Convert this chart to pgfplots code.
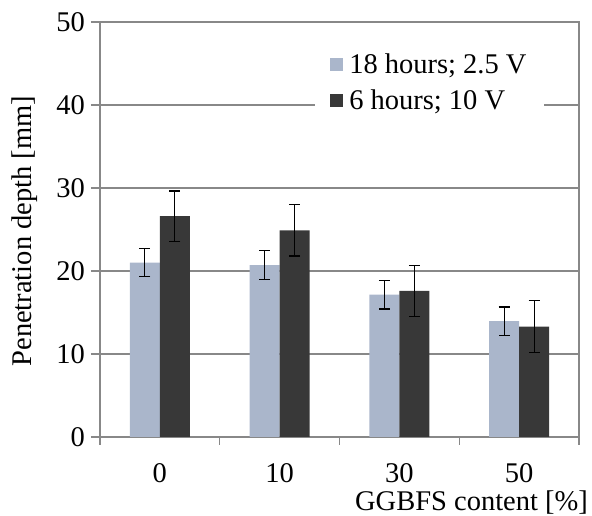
\documentclass[border=0pt]{standalone}
\usepackage{fontspec}
\setmainfont{Liberation Serif}
\usepackage{pgfplots}
\pgfplotsset{compat=1.18}
\definecolor{lightbar}{HTML}{AAB6CB}
\definecolor{darkbar}{HTML}{383838}
\definecolor{axgray}{HTML}{888888}
\begin{document}
\begin{tikzpicture}[font=\fontsize{28.5}{33}\selectfont]
\path[use as bounding box] (-100pt,-79pt) rectangle (492pt,437pt);
\begin{axis}[
  scale only axis,
  width=479pt, height=415pt,
  xmin=-0.5, xmax=3.5,
  ymin=0, ymax=50,
  ytick={0,10,20,30,40,50},
  xtick={0,1,2,3},
  xticklabels={0,10,30,50},
  minor xtick={-0.5,0.5,1.5,2.5,3.5},
  major x tick style={draw=none},
  minor tick length=8pt,
  major tick length=9pt,
  tick align=outside,
  xtick pos=bottom, ytick pos=left,
  axis line style={axgray, line width=1.3pt},
  tick style={axgray, line width=1.2pt},
  ymajorgrids,
  grid style={axgray, line width=1.1pt},
  /pgf/number format/assume math mode=true,
  yticklabel style={anchor=east, inner sep=0pt, xshift=-6pt},
  xticklabel style={anchor=center, inner sep=0pt, yshift=-27pt},
  ylabel={Penetration depth [mm]},
  ylabel style={at={(axis description cs:-0.158,0.496)}, anchor=center, inner sep=0pt, rotate=0},
  xlabel={GGBFS content [\%]},
  xlabel style={at={(axis description cs:1.019,-0.157)}, anchor=east, inner sep=0pt},
  ybar=0pt, bar width=30pt,
  legend style={at={(axis description cs:0.449,0.9325)}, anchor=north west, draw=none, fill=white, row sep=10pt, column sep=4pt, inner xsep=15pt, inner ysep=2pt},
  legend cell align=left,
  legend image code/.code={\fill[#1] (0pt,-6.5pt) rectangle (13pt,6.5pt);},
  error bars/error bar style={black, line width=1.2pt},
  error bars/error mark options={black, line width=1.2pt, rotate=90, mark size=5.5pt},
]
\addplot[fill=lightbar, draw=none, error bars/.cd, y dir=both, y explicit]
  coordinates {(0,21.0) +- (0,1.7) (1,20.7) +- (0,1.75) (2,17.15) +- (0,1.72) (3,13.95) +- (0,1.72)};
\addplot[fill=darkbar, draw=none, error bars/.cd, y dir=both, y explicit]
  coordinates {(0,26.6) +- (0,3.05) (1,24.9) +- (0,3.1) (2,17.6) +- (0,3.07) (3,13.3) +- (0,3.15)};
\legend{18 hours; 2.5 V, 6 hours; 10 V}
\end{axis}
\end{tikzpicture}
\end{document}
